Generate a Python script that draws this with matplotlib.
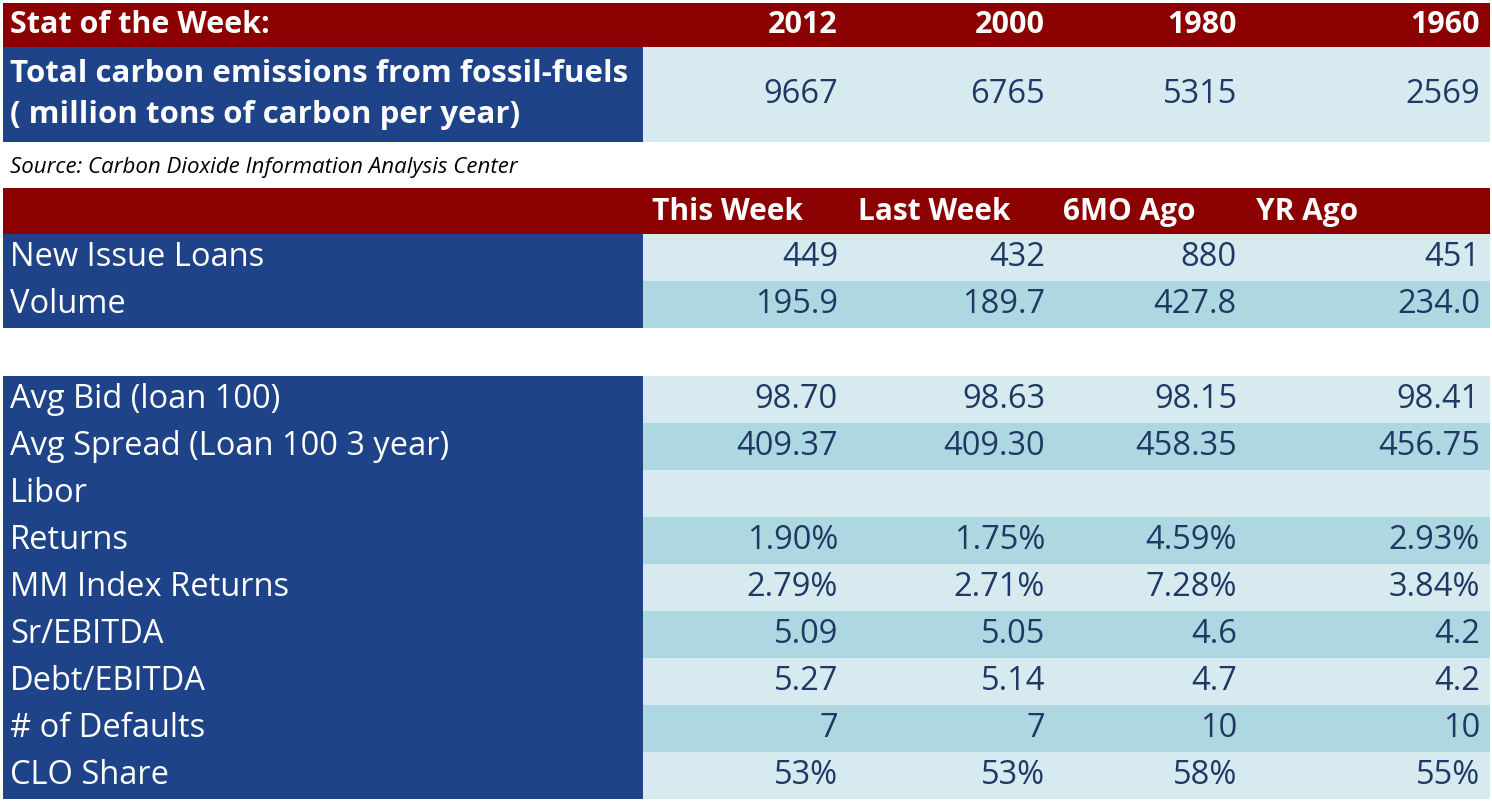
import matplotlib.pyplot as plt
from matplotlib.patches import Rectangle

plt.rcParams['font.family'] = ['Open Sans', 'DejaVu Sans']

years = ["2012", "2000", "1980", "1960"]
emissions = ["9667", "6765", "5315", "2569"]
periods = ["This Week", "Last Week", "6MO Ago", "YR Ago"]
top_labels = ["New Issue Loans", "Volume"]
top_values = [["449", "432", "880", "451"],
              ["195.9", "189.7", "427.8", "234.0"]]
labels = ["Avg Bid (loan 100)", "Avg Spread (Loan 100 3 year)", "Libor", "Returns",
          "MM Index Returns", "Sr/EBITDA", "Debt/EBITDA", "# of Defaults", "CLO Share"]
values = [["98.70", "98.63", "98.15", "98.41"],
          ["409.37", "409.30", "458.35", "456.75"],
          ["", "", "", ""],
          ["1.90%", "1.75%", "4.59%", "2.93%"],
          ["2.79%", "2.71%", "7.28%", "3.84%"],
          ["5.09", "5.05", "4.6", "4.2"],
          ["5.27", "5.14", "4.7", "4.2"],
          ["7", "7", "10", "10"],
          ["53%", "53%", "58%", "55%"]]

red = "#8B0000"
blue = "#1F4388"
light = "#D6EAF0"
dark = "#ADD8E2"
navy = "#1F3864"
colx = [838, 1045, 1237, 1480]  # right edges of value text
fs = 23.5

fig = plt.figure(figsize=(14.92, 8.05), dpi=100)
ax = fig.add_axes([0, 0, 1, 1])
ax.set_xlim(0, 1492)
ax.set_ylim(805, 0)
ax.axis("off")

def row(y0, h, label, vals, shade, bold=False, size=fs):
    ax.add_patch(Rectangle((3, y0), 640, h, color=blue, lw=0))
    ax.add_patch(Rectangle((643, y0), 847, h, color=shade, lw=0))
    ax.text(10, y0 + h / 2, label, color="white", fontsize=size, va="center",
            fontweight="bold" if bold else "normal", linespacing=1.45)
    for x, v in zip(colx, vals):
        ax.text(x, y0 + h / 2, v, color=navy, fontsize=fs, va="center", ha="right")

# stat of the week
ax.add_patch(Rectangle((3, 3), 1487, 44, color=red, lw=0))
ax.text(10, 25, "Stat of the Week:", color="white", fontsize=22, fontweight="bold", va="center")
for x, v in zip(colx, years):
    ax.text(x, 25, v, color="white", fontsize=22, fontweight="bold", va="center", ha="right")
row(47, 95, "Total carbon emissions from fossil-fuels\n( million tons of carbon per year)",
    emissions, light, bold=True, size=22.5)
ax.text(10, 168, "Source: Carbon Dioxide Information Analysis Center", fontsize=16,
        style="italic", va="center", color="black")

# loan table
ax.add_patch(Rectangle((3, 188), 1487, 46, color=red, lw=0))
for x, p in zip([652, 858, 1063, 1256], periods):
    ax.text(x, 212, p, color="white", fontsize=21.5, fontweight="bold", va="center")
y = 234
for i, (lab, vals) in enumerate(zip(top_labels, top_values)):
    row(y, 47, lab, vals, light if i % 2 == 0 else dark)
    y += 47
y = 376
for i, (lab, vals) in enumerate(zip(labels, values)):
    row(y, 47, lab, vals, light if i % 2 == 0 else dark)
    y += 47

fig.savefig("out.png")
